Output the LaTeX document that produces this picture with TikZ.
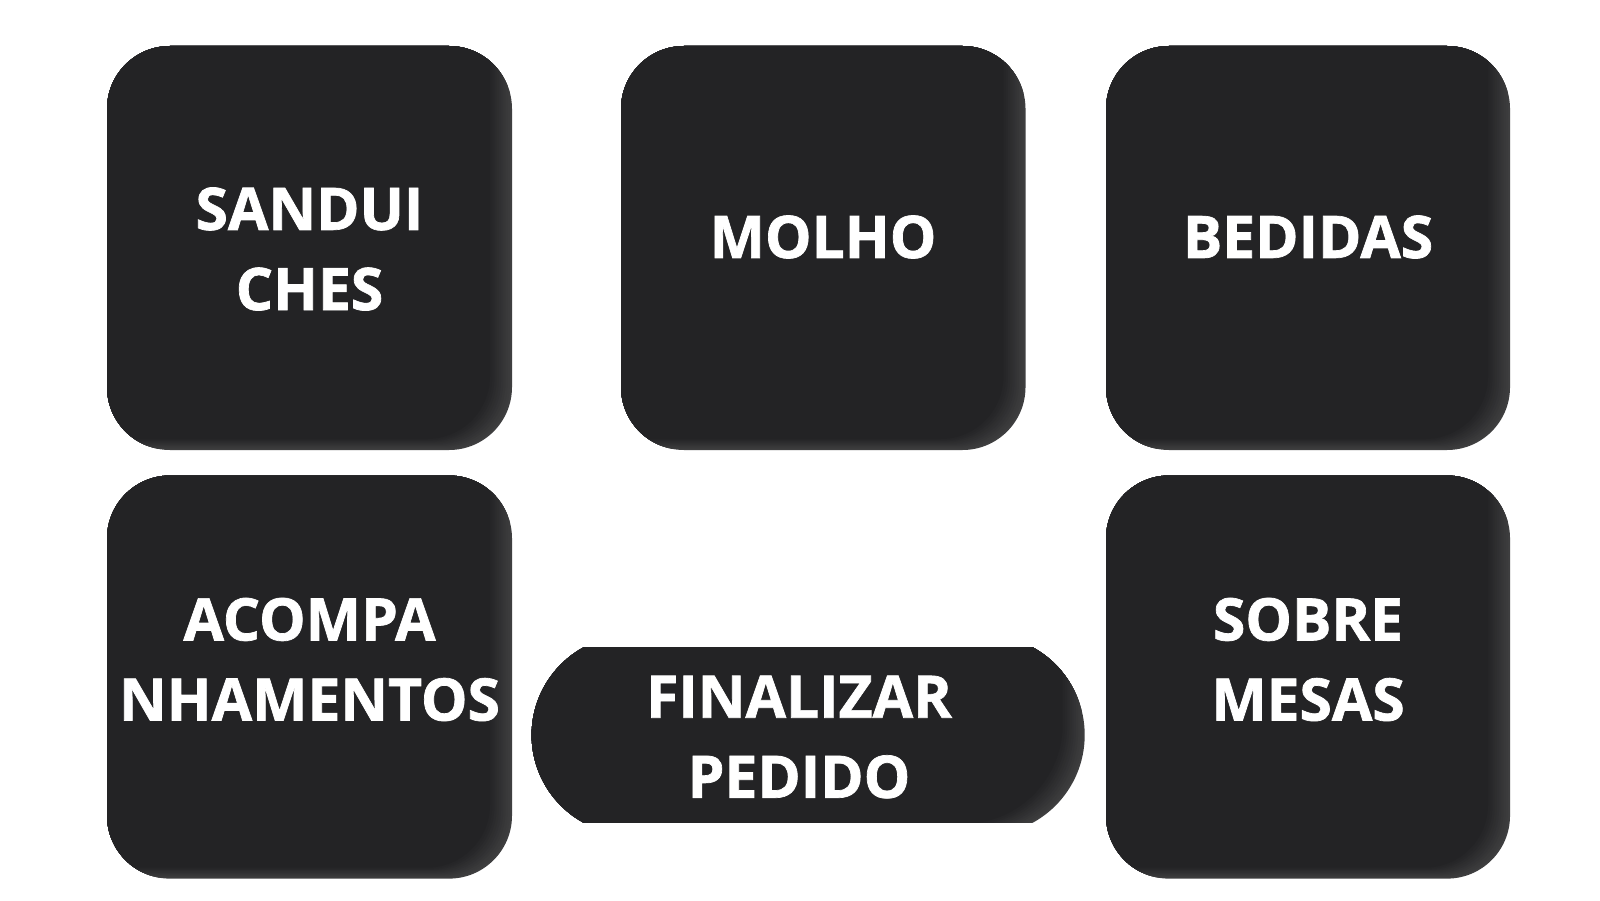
\documentclass[tikz,border=0pt]{standalone}
\usepackage{fontspec}
\setmainfont{Open Sans}[BoldFeatures={FakeBold=1.2}]
\definecolor{cardbody}{HTML}{232325}
\definecolor{cardedge}{HTML}{3E3E3F}
\tikzstyle{label}=[text=white,
                   font=\bfseries\fontsize{16.7}{22.8}\selectfont,
                   align=center,
                   inner sep=0pt]

% card with a soft light inner edge on the right and at the bottom
\newcommand{\menucard}[5][6.3mm]{%
  \begin{scope}
  \clip[rounded corners=#1] (#2,#3) rectangle (#4,#5);
  \fill[cardedge] (#2-1,#3-1) rectangle (#4+1,#5+1);
  \foreach \i in {1,...,10}{
    \pgfmathsetmacro{\mix}{\i*10}
    \fill[cardbody!\mix!cardedge, rounded corners=#1]
      (#2-1,{#3+\i*0.011}) rectangle ({#4-\i*0.022},#5+1);
  }
  \end{scope}
}

\begin{document}
\begin{tikzpicture}

\fill[white] (0,0) rectangle (16,9);
\useasboundingbox (0,0) rectangle (16,9);

% top row
\menucard{1.07}{4.50}{5.12}{8.54}
\menucard{6.21}{4.50}{10.255}{8.54}
\menucard{11.06}{4.50}{15.10}{8.54}

% bottom row
\menucard{1.07}{0.214}{5.12}{4.245}
\menucard{11.06}{0.214}{15.10}{4.245}

% order button
\begin{scope}
\clip (5.2,0.775) rectangle (11,2.53);
\menucard[10mm]{5.316}{0.65}{10.847}{2.65}
\end{scope}

% labels
\node[label] (sand) at (3.095,6.51) {SANDUI\\CHES};
\node[label] (molho) at (8.23,6.63) {MOLHO};
\node[label] (bebi) at (13.08,6.63) {BEDIDAS};
\node[label] (acomp) at (3.095,2.405) {ACOMPA\\NHAMENTOS};
\node[label] (sobre) at (13.08,2.405) {SOBRE\\MESAS};
\node[label] (final) at (7.99,1.63) {FINALIZAR\\PEDIDO};

\end{tikzpicture}
\end{document}
